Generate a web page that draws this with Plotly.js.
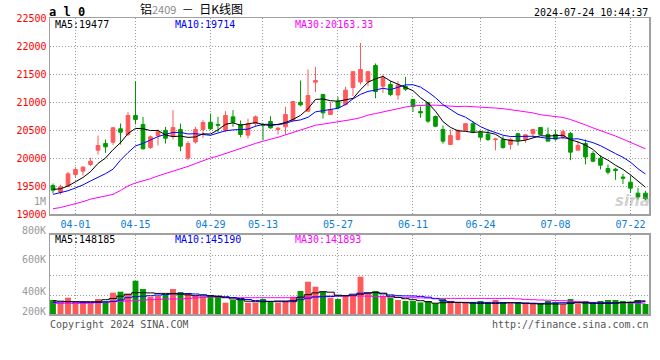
<!DOCTYPE html>
<html><head><meta charset="utf-8">
<script src="https://cdn.plot.ly/plotly-3.0.1.min.js"></script>
<style>html,body{margin:0;padding:0;background:#fff;}#chart{width:660px;height:360px;}</style>
</head><body><div id="chart"></div>
<script>
const dates = ['03-27','03-28','03-29','04-01','04-02','04-03','04-08','04-09','04-10','04-11','04-12','04-15','04-16','04-17','04-18','04-19','04-22','04-23','04-24','04-25','04-26','04-29','04-30','05-06','05-07','05-08','05-09','05-10','05-13','05-14','05-15','05-16','05-17','05-20','05-21','05-22','05-23','05-24','05-27','05-28','05-29','05-30','05-31','06-03','06-04','06-05','06-06','06-07','06-11','06-12','06-13','06-14','06-17','06-18','06-19','06-20','06-21','06-24','06-25','06-26','06-27','06-28','07-01','07-02','07-03','07-04','07-05','07-08','07-09','07-10','07-11','07-12','07-15','07-16','07-17','07-18','07-19','07-22','07-23','07-24'];
const openP = [19509,19390,19497,19705,19765,19884,20140,20259,20283,20521,
 20420,20759,20598,20188,20402,20494,20384,20509,19997,20286,
 20509,20640,20598,20494,20735,20598,20408,20616,20598,20652,
 20509,20556,20676,20997,20836,21354,21134,20777,21015,20955,
 21259,21357,21363,21652,21283,21313,21125,21277,21045,20830,
 20991,20741,20509,20241,20330,20494,20613,20458,20425,20327,
 20330,20241,20434,20333,20434,20545,20420,20420,20369,20437,
 20140,20259,20080,19994,19812,19800,19660,19568,19372,19372];
const highP = [19545,19521,19753,19836,19854,20003,20402,20330,20556,20616,
 20818,21372,20735,20402,20509,20556,20854,20616,20301,20556,
 20676,20795,20735,20836,20854,20670,20705,20759,20628,20747,
 20556,20913,21009,21384,21580,21628,21134,21003,21092,21271,
 21545,22056,21545,21688,21491,21372,21372,21449,21045,20917,
 20991,20759,20580,20509,20509,20613,20658,20491,20509,20360,
 20390,20360,20449,20420,20509,20556,20545,20497,20509,20464,
 20301,20330,20122,20048,19884,19824,19720,19687,19467,19414];
const lowP = [19366,19348,19485,19658,19687,19854,20062,20092,20235,20241,
 20390,20598,20152,20164,20223,20259,20330,20122,19961,20259,
 20360,20497,20461,20461,20556,20372,20348,20556,20318,20521,
 20420,20420,20658,20925,20818,21176,20705,20777,20866,20937,
 21104,21313,21283,21066,21164,21104,21045,21200,20821,20717,
 20628,20551,20256,20241,20312,20479,20443,20312,20301,20137,
 20164,20152,20223,20271,20360,20420,20301,20310,20330,19961,
 20140,19884,19925,19795,19705,19610,19536,19378,19259,19244];
const closeP = [19426,19485,19717,19795,19836,19943,20223,20199,20539,20461,
 20759,20687,20164,20378,20470,20354,20545,20212,20259,20509,
 20634,20521,20586,20759,20640,20420,20610,20735,20586,20539,
 20533,20777,21009,20949,21116,21384,20806,20866,20896,21211,
 21542,21580,21542,21188,21432,21134,21304,21229,20917,20806,
 20658,20568,20301,20402,20494,20613,20467,20372,20330,20339,
 20188,20330,20318,20414,20509,20420,20301,20336,20470,20104,
 20223,20018,19943,19872,19747,19776,19640,19461,19304,19271];
const ma5 = [19440,19450,19500,19575,19652,19755,19903,19999,20148,20273,
 20436,20529,20522,20490,20492,20411,20382,20392,20368,20376,
 20432,20427,20502,20602,20628,20585,20603,20633,20598,20578,
 20601,20634,20689,20761,20877,21047,21053,21024,21014,21033,
 21064,21219,21354,21413,21457,21375,21320,21257,21203,21078,
 20983,20836,20650,20547,20485,20476,20455,20470,20455,20424,
 20339,20312,20301,20318,20352,20398,20392,20396,20407,20326,
 20287,20230,20152,20032,19961,19871,19796,19699,19586,19477];
const ma10 = [19350,19380,19415,19465,19520,19590,19655,19720,19800,19962,
 20096,20216,20261,20319,20382,20423,20456,20457,20429,20434,
 20421,20405,20447,20485,20502,20509,20515,20567,20600,20603,
 20593,20619,20661,20680,20727,20824,20843,20857,20888,20955,
 21056,21136,21189,21213,21245,21220,21270,21306,21308,21267,
 21179,21078,20954,20875,20781,20729,20646,20560,20501,20454,
 20407,20384,20385,20387,20388,20369,20352,20349,20363,20339,
 20343,20311,20274,20220,20143,20079,20013,19925,19809,19714];
const ma30 = [19095,19115,19150,19180,19220,19265,19290,19320,19350,19420,
 19500,19555,19590,19630,19680,19720,19760,19800,19850,19900,
 19950,20000,20035,20080,20130,20180,20220,20260,20300,20333,
 20370,20413,20456,20495,20537,20585,20605,20627,20639,20664,
 20690,20720,20766,20793,20825,20851,20876,20910,20932,20942,
 20943,20944,20935,20923,20918,20924,20919,20907,20899,20892,
 20881,20866,20843,20825,20805,20773,20756,20738,20724,20687,
 20643,20591,20538,20494,20438,20392,20337,20278,20224,20163];
// volume in thousands of lots
const volume = [157,133,180,133,140,133,167,147,230,240,
 217,350,267,190,200,213,267,237,223,200,
 190,207,200,130,157,167,130,130,167,140,
 130,147,190,247,340,290,240,180,167,200,
 200,390,223,247,200,180,157,147,147,133,
 147,123,167,147,133,133,133,147,133,157,
 133,133,133,123,123,123,147,133,113,167,
 123,147,123,147,157,157,147,140,157,117];
const volMa5 = [150,145,140,140,140,140,140,160,172,195,
 215,230,230,228,223,223,223,215,208,200,
 198,197,190,180,168,160,145,140,140,143,
 147,147,150,185,210,228,240,235,205,200,
 205,215,225,233,225,195,183,170,160,150,
 140,125,130,133,133,130,125,123,123,123,
 125,130,127,123,120,117,117,117,117,123,
 133,128,123,123,123,125,130,133,147,148];
const volMa10 = [133,137,140,137,133,133,133,137,143,157,
 180,190,195,200,207,212,217,220,222,217,
 210,200,195,190,182,172,162,152,147,143,
 140,140,140,160,175,187,190,192,197,200,
 215,225,230,230,218,208,200,198,197,193,
 185,170,150,140,133,133,133,133,133,133,
 132,130,130,128,125,123,125,128,130,130,
 130,130,130,130,130,130,132,133,135,140];
const volMa30 = [123,123,123,123,123,127,130,133,140,143,
 147,150,155,160,163,167,167,167,172,178,
 183,188,186,183,180,180,180,180,180,180,
 180,180,180,183,187,190,195,197,197,197,
 197,197,195,192,190,187,183,180,180,178,
 176,174,173,173,173,173,173,173,173,173,
 173,173,168,163,160,157,155,152,150,145,
 140,137,133,133,132,131,130,128,126,125];
const dateTicks = ['04-01','04-15','04-29','05-13','05-27','06-11','06-24','07-08','07-22'];
const priceTicks = [19000,19500,20000,20500,21000,21500,22000,22500];
const volTicks = [200,400,600];
const volLabels = ['800K','600K','400K','200K'];
const legendPrice = ['MA5:19477','MA10:19714','MA30:20163.33'];
const legendVol = ['MA5:148185','MA10:145190','MA30:141893'];

const RED = '#FF5A5A', GREEN = '#009A00';
const MONO = 'DejaVu Sans Mono';
const volColors = closeP.map((c, i) => c >= openP[i] ? RED : GREEN);

const W = 660, L = 50, R = 11, T = 18, B = 46;
const PW = W - L - R, PH = 360 - T - B;
const px = x => (x - L) / PW;
const py = y => (360 - B - y) / PH;

const traces = [
  {type:'candlestick', x:dates, open:openP, high:highP, low:lowP, close:closeP,
   xaxis:'x', yaxis:'y', whiskerwidth:0,
   increasing:{line:{color:RED, width:1}, fillcolor:RED},
   decreasing:{line:{color:GREEN, width:1}, fillcolor:GREEN},
   hoverinfo:'skip', showlegend:false},
  {type:'scatter', mode:'lines', x:dates, y:ma30, line:{color:'#FF00FF', width:1}, xaxis:'x', yaxis:'y', hoverinfo:'skip'},
  {type:'scatter', mode:'lines', x:dates, y:ma10, line:{color:'#0000FF', width:1}, xaxis:'x', yaxis:'y', hoverinfo:'skip'},
  {type:'scatter', mode:'lines', x:dates, y:ma5, line:{color:'#000000', width:1}, xaxis:'x', yaxis:'y', hoverinfo:'skip'},
  {type:'bar', x:dates, y:volume, marker:{color:volColors, line:{width:0}}, xaxis:'x2', yaxis:'y2', hoverinfo:'skip'},
  {type:'scatter', mode:'lines', x:dates, y:volMa30, line:{color:'#FF00FF', width:1, shape:'hvh'}, xaxis:'x2', yaxis:'y2', hoverinfo:'skip'},
  {type:'scatter', mode:'lines', x:dates, y:volMa10, line:{color:'#0000FF', width:1, shape:'hvh'}, xaxis:'x2', yaxis:'y2', hoverinfo:'skip'},
  {type:'scatter', mode:'lines', x:dates, y:volMa5, line:{color:'#000000', width:1, shape:'hvh'}, xaxis:'x2', yaxis:'y2', hoverinfo:'skip'}
];

const grid = {showgrid:true, gridcolor:'#9a9a9a', griddash:'1px,2px', gridwidth:1,
  showline:true, mirror:true, linecolor:'#a0a0a0', linewidth:1.5, ticks:'', zeroline:false};

const ann = [];
function txt(text, x, y, color, size, anchor, extra) {
  ann.push(Object.assign({text:text, x:px(x), y:py(y), xref:'paper', yref:'paper',
    xanchor:anchor || 'left', yanchor:'middle', showarrow:false, height:(size || 10) + 2, borderpad:0,
    font:{family:MONO, size:size || 10, color:color}}, extra || {}));
}
txt('<b>a l 0</b>', 48, 12, '#000', 12, 'left');
ann.push({text:'铝<span style="color:#8a8a8a;font-size:11px">2409</span>  －  日K线图', x:px(139), y:py(9), xref:'paper', yref:'paper',
  xanchor:'left', yanchor:'middle', showarrow:false, height:13, borderpad:0,
  font:{family:'Noto Sans CJK SC', size:12, color:'#000'}});
txt('2024-07-24 10:44:37', 649, 12, '#000', 10, 'right');
txt(legendPrice[0], 54, 24, '#000', 10);
txt(legendPrice[1], 174, 24, '#0000FF', 10);
txt(legendPrice[2], 294, 24, '#FF00FF', 10);
txt(legendVol[0], 54, 239, '#000', 10);
txt(legendVol[1], 174, 239, '#0000FF', 10);
txt(legendVol[2], 294, 239, '#FF00FF', 10);
txt('1M', 47, 201, '#999', 10, 'right');
const volLabelY = [230, 259, 291, 311];
volLabels.forEach((s, i) => txt(s, 47, volLabelY[i], '#999', 10, 'right'));
txt('Copyright 2024 SINA.COM', 49, 324, '#555', 10);
txt('http://finance.sina.com.cn', 650, 324, '#555', 10, 'right');
ann.push({text:'<i><b>sina</b></i>', x:px(632), y:py(201), xref:'paper', yref:'paper', xanchor:'center', yanchor:'middle',
  showarrow:false, font:{family:'DejaVu Sans', size:15, color:'rgba(150,150,150,0.45)'}});

const layout = {
  width:660, height:360, margin:{l:L, r:R, t:T, b:B},
  paper_bgcolor:'#fff', plot_bgcolor:'#fff', showlegend:false,
  boxgap:0.3, bargap:0.22,
  xaxis: Object.assign({}, grid, {type:'category', range:[-0.4, 79.47], anchor:'y',
    tickvals:dateTicks, ticktext:dateTicks, tickfont:{family:MONO, size:10, color:'#0B7DD6'},
    rangeslider:{visible:false}, fixedrange:true}),
  yaxis: Object.assign({}, grid, {domain:[py(214), 1], range:[19000, 22500], anchor:'x',
    tickvals:priceTicks, ticktext:priceTicks.map(String), tickfont:{family:MONO, size:10, color:'#FF0000'}, fixedrange:true}),
  xaxis2: Object.assign({}, grid, {type:'category', matches:'x', anchor:'y2', showticklabels:false, tickvals:dateTicks}),
  yaxis2: Object.assign({}, grid, {domain:[0, py(234.5)], range:[17, 812], anchor:'x2',
    tickvals:volTicks, showticklabels:false}),
  annotations: ann
};
Plotly.newPlot('chart', traces, layout, {staticPlot:true, displayModeBar:false});
</script></body></html>
